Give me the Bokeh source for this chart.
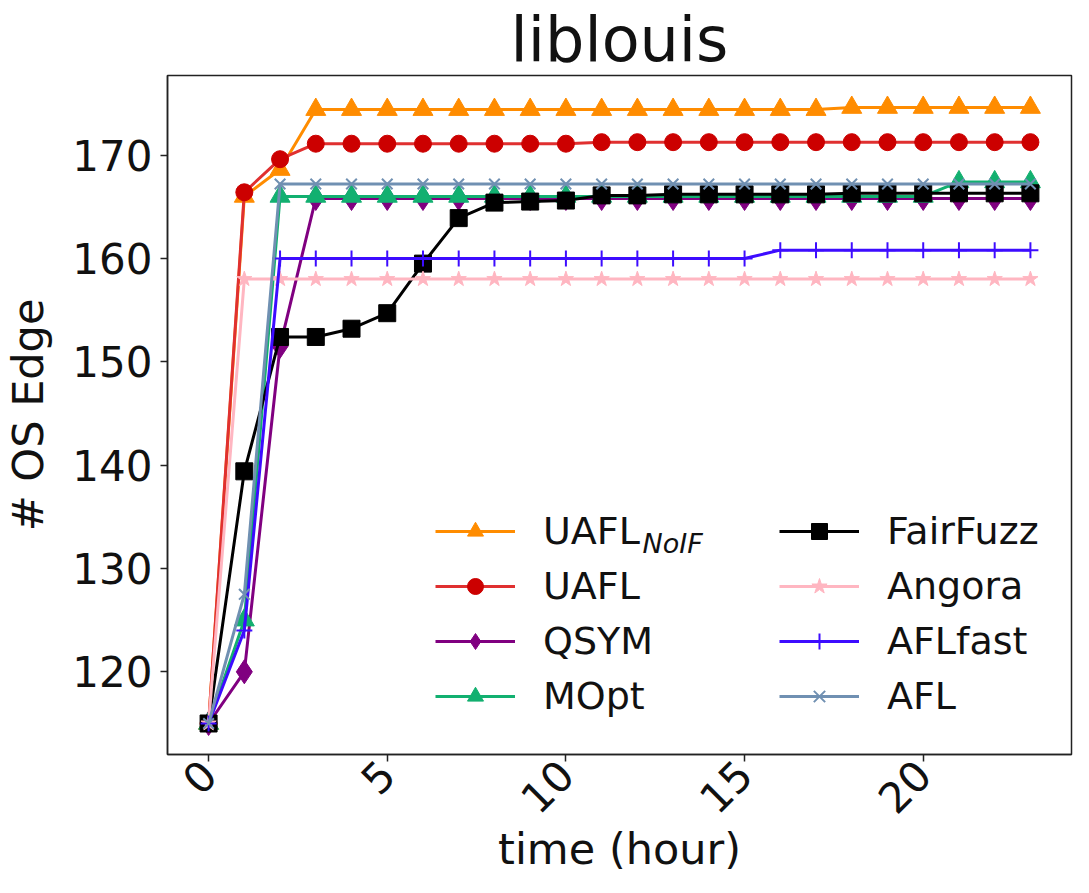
import math
from bokeh.plotting import figure
from bokeh.models import Range1d, FixedTicker, Legend, LegendItem, Label
from bokeh.embed import file_html
from bokeh.resources import INLINE

# ---- data ----
hours = list(range(24))

names = ["UAFL", "UAFL", "QSYM", "MOpt", "FairFuzz", "Angora", "AFLfast", "AFL"]

uafl_noif = [115, 166.0, 168.6] + [174.4] * 15 + [174.6] * 6
uafl = [115, 166.4, 169.6] + [171.1] * 8 + [171.25] * 13
qsym = [115, 120.0, 151.5] + [165.8] * 21
mopt = [115, 125.0] + [166.0] * 19 + [167.4] * 3
fairfuzz = [115, 139.4, 152.4, 152.4, 153.2, 154.7, 159.5, 163.9, 165.4, 165.5,
            165.6, 166.1, 166.1, 166.2, 166.2, 166.2, 166.2, 166.2, 166.3, 166.3,
            166.3, 166.3, 166.3, 166.3]
angora = [115] + [158.0] * 23
aflfast = [115, 124.0] + [160.0] * 14 + [160.8] * 8
afl = [115, 127.5] + [167.2] * 22

y_ticks = [120, 130, 140, 150, 160, 170]
x_ticks = [0, 5, 10, 15, 20]

FONT = "DejaVu Sans"

# (values, line colour, marker colour, marker, size)
series = [
    (uafl_noif, "#ff8c00", "#ff8c00", "triangle", 20),
    (uafl, "#e03030", "#cc0000", "circle", 17),
    (qsym, "#800080", "#800080", "diamond", 24),
    (mopt, "#12b070", "#12b070", "triangle", 20),
    (fairfuzz, "#000000", "#000000", "square", 17),
    (angora, "#ffb6c1", "#ffb6c1", "star", 16),
    (aflfast, "#3d0cff", "#3d0cff", "cross", 16),
    (afl, "#7090b2", "#7090b2", "x", 15),
]

p = figure(width=1073, height=877, output_backend="svg", toolbar_location=None,
           x_range=Range1d(-1.15, 24.15), y_range=Range1d(112.0, 177.7),
           min_border_left=162, min_border_right=2, min_border_top=0,
           min_border_bottom=0)

p.background_fill_color = "white"
p.border_fill_color = "white"
p.outline_line_color = "#222222"
p.outline_line_width = 1.5
p.xgrid.visible = False
p.ygrid.visible = False

p.title.text = "liblouis"
p.title.align = "center"
p.title.text_font = FONT
p.title.text_font_size = "62px"
p.title.text_font_style = "normal"
p.title.text_color = "#111111"
p.title.standoff = 0

for ax in (p.xaxis[0], p.yaxis[0]):
    ax.axis_line_color = "#222222"
    ax.axis_line_width = 1.5
    ax.major_tick_line_color = "#222222"
    ax.major_tick_line_width = 1.5
    ax.major_tick_out = 7
    ax.major_tick_in = 0
    ax.minor_tick_out = 0
    ax.minor_tick_in = 0
    ax.major_label_text_font = FONT
    ax.major_label_text_font_size = "42px"
    ax.major_label_text_color = "#111111"
    ax.axis_label_text_font = FONT
    ax.axis_label_text_font_size = "43px"
    ax.axis_label_text_font_style = "normal"
    ax.axis_label_text_color = "#111111"

p.xaxis.ticker = FixedTicker(ticks=x_ticks)
p.yaxis.ticker = FixedTicker(ticks=y_ticks)
p.xaxis.major_label_orientation = math.pi / 4
p.xaxis.axis_label = "time (hour)"
p.yaxis.axis_label = "# OS Edge"
p.yaxis.major_label_standoff = 8
p.xaxis.major_label_standoff = 6
p.xaxis.axis_label_standoff = -6
p.xaxis.axis_label_text_line_height = 1.0
p.yaxis.axis_label_standoff = 16

items = []
for name, (vals, lcol, mcol, marker, size) in zip(names, series):
    lr = p.line(hours, vals, line_color=lcol, line_width=3)
    sr = p.scatter(hours, vals, marker=marker, size=size,
                   fill_color=mcol, line_color=mcol,
                   line_width=2 if marker in ("x", "cross") else 1)
    items.append(LegendItem(label=name, renderers=[lr, sr]))

LX, LY = 268, 36
legend = Legend(items=items, ncols=2, location=(LX, LY))
legend.border_line_color = None
legend.background_fill_alpha = 0
legend.padding = 0
legend.margin = 0
legend.spacing = 11
legend.glyph_width = 80
legend.glyph_height = 40
legend.label_height = 40
legend.label_width = 225
legend.label_standoff = 28
legend.label_text_font = FONT
legend.label_text_font_size = "38px"
legend.label_text_color = "#111111"
p.add_layout(legend, "center")

sub = Label(x=LX + 207, y=LY + 3 * 55 + 22 - 12, x_units="screen", y_units="screen",
            text="NoIF", text_font=FONT, text_font_size="27px",
            text_font_style="italic", text_baseline="middle", text_color="#111111")
p.add_layout(sub)

open("out.html", "w").write(file_html(p, INLINE))
